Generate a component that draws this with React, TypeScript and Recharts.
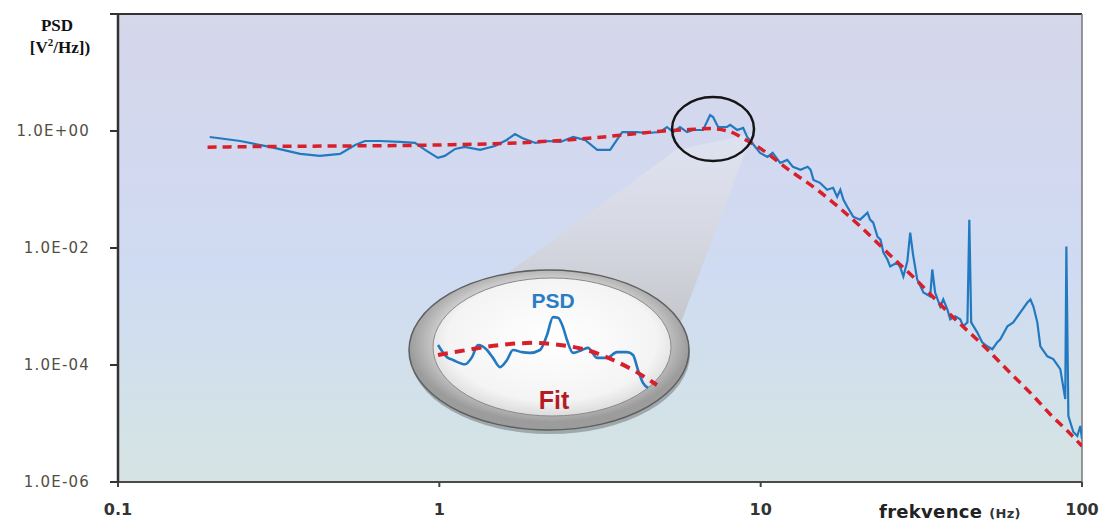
import React from 'react';
import { LineChart, Line, XAxis, YAxis, ReferenceLine } from 'recharts';

// ---- axis ticks ----
const xTicks = [0.1, 1, 10, 100];
const xTickLabels = ['0.1', '1', '10', '100'];
const yTicks = [1e-6, 1e-4, 1e-2, 1, 100];
const yTickLabels = ['1.0E-06', '1.0E-04', '1.0E-02', '1.0E+00', ''];

// ---- measured PSD (frequency in Hz, PSD in V^2/Hz) ----
const psdFreq = [
  0.193, 0.24, 0.297, 0.369, 0.425, 0.491, 0.547, 0.587, 0.654, 0.755,
  0.84, 0.903, 0.99, 1.04, 1.12, 1.2, 1.34, 1.49, 1.62, 1.72,
  1.81, 1.99, 2.18, 2.38, 2.61, 2.84, 3.1, 3.4, 3.57, 3.71,
  4.13, 4.43, 4.86, 5.11, 5.34, 5.61, 5.9, 6.16, 6.62, 6.96,
  7.11, 7.37, 7.86, 8.04, 8.45, 8.82, 9.08, 9.41, 9.96, 10.5,
  10.9, 11.5, 12.1, 12.6, 13.3, 14.0, 14.3, 14.6, 15.3, 16.1,
  16.8, 17.3, 17.7, 18.1, 18.6, 19.4, 20.4, 21.5, 21.9, 22.4,
  23.1, 23.6, 24.1, 24.8, 25.3, 26.6, 27.2, 27.8, 28.6, 29.2,
  29.8, 30.7, 32.1, 33.7, 34.2, 34.9, 36.2, 37.0, 38.1, 38.9,
  40.3, 41.8, 42.7, 44.0, 44.6, 45.2, 47.2, 48.9, 50.7, 52.6,
  54.5, 55.7, 58.6, 61.1, 64.3, 67.6, 69.1, 70.6, 72.6, 74.2,
  78.0, 81.4, 85.6, 88.7, 89.4, 90.7, 94.0, 96.7, 98.8, 100,
];
const psdValues = [
  0.79, 0.675, 0.534, 0.406, 0.375, 0.406, 0.577, 0.675, 0.675, 0.65,
  0.625, 0.475, 0.347, 0.375, 0.494, 0.534, 0.475, 0.555, 0.703, 0.889,
  0.76, 0.625, 0.675, 0.65, 0.79, 0.703, 0.475, 0.475, 0.703, 0.96,
  0.96, 0.925, 0.96, 1.17, 0.96, 1.17, 0.96, 1.04, 1.04, 1.87,
  1.73, 1.17, 1.17, 1.27, 1.04, 1.13, 0.79, 0.625, 0.422, 0.361,
  0.422, 0.285, 0.321, 0.244, 0.217, 0.244, 0.217, 0.146, 0.13, 0.0988,
  0.107, 0.075, 0.0988, 0.0668, 0.0507, 0.0343, 0.0305, 0.0401, 0.0305, 0.0271,
  0.0156, 0.0139, 0.00835, 0.00634, 0.00482, 0.00564, 0.00464, 0.00326, 0.00586, 0.0183,
  0.00772, 0.0029, 0.00174, 0.00149, 0.00429, 0.00174, 0.001, 0.00132, 0.000892, 0.000603,
  0.000678, 0.000603, 0.000458, 0.000536, 0.0305, 0.000536, 0.000362, 0.000245, 0.000209, 0.000186,
  0.000245, 0.000275, 0.000458, 0.000536, 0.000793, 0.00117, 0.00132, 0.001, 0.000536, 0.000209,
  0.000141, 0.000126, 8.48e-5, 2.62e-5, 0.0106, 1.34e-5, 7.16e-6, 6.12e-6, 9.07e-6, 5.45e-6,
];

// ---- fit curve ----
const fitFreq = [0.19, 0.3, 0.5, 1, 2, 3, 4, 5, 6, 7, 8, 9, 10, 12, 15, 20, 25, 30, 40, 50, 60, 70, 80, 90, 100];
const fitValues = [
  0.53, 0.545, 0.555, 0.577, 0.65, 0.76, 0.89, 1.0, 1.06, 1.1, 0.98, 0.7, 0.5,
  0.234, 0.0988, 0.026, 0.008, 0.0031, 6.3e-4, 2.0e-4, 7.2e-5, 3.1e-5, 1.4e-5, 7.5e-6, 4.1e-6,
];

// ---- zoomed inset (linear Hz / linear V^2/Hz) ----
const zoomPsdFreq = [5.36, 5.54, 5.66, 5.9, 6.04, 6.16, 6.34, 6.46, 6.6, 6.74, 6.86, 7.04, 7.2, 7.4, 7.54, 7.66, 7.76, 7.86, 7.94, 8.06, 8.24, 8.36, 8.54, 8.74, 8.94, 9.14, 9.26, 9.36, 9.46, 9.56];
const zoomPsdValues = [1.37, 1.2, 1.16, 1.1, 1.2, 1.37, 1.3, 1.19, 1.06, 1.16, 1.3, 1.27, 1.26, 1.3, 1.51, 1.76, 1.75, 1.62, 1.44, 1.26, 1.3, 1.33, 1.19, 1.19, 1.27, 1.27, 1.23, 1.02, 0.84, 0.77];
const zoomFitFreq = [5.36, 5.94, 6.6, 7.26, 7.8, 8.34, 8.86, 9.26, 9.74];
const zoomFitValues = [1.23, 1.3, 1.37, 1.4, 1.37, 1.3, 1.16, 1.02, 0.81];

const psdData = psdFreq.map((f, i) => ({ f, v: psdValues[i] }));
const fitData = fitFreq.map((f, i) => ({ f, v: fitValues[i] }));
const zoomPsdData = zoomPsdFreq.map((f, i) => ({ f, v: zoomPsdValues[i] }));
const zoomFitData = zoomFitFreq.map((f, i) => ({ f, v: zoomFitValues[i] }));

const BLUE = '#2379c0';
const RED = '#d8202a';

const labelFor = (vals: number[], labels: string[], v: number) => {
  let best = 0;
  vals.forEach((t, i) => {
    if (Math.abs(Math.log10(t) - Math.log10(v)) < Math.abs(Math.log10(vals[best]) - Math.log10(v))) best = i;
  });
  return labels[best];
};

const YTick = (props: any) => {
  const { x, y, payload } = props;
  return (
    <text x={x - 18} y={y} textAnchor="end" dominantBaseline="central" fill="#524e44"
      fontSize={15} fontFamily="DejaVu Sans" letterSpacing={1.2}>
      {labelFor(yTicks, yTickLabels, payload.value)}
    </text>
  );
};

const XTick = (props: any) => {
  const { x, y, payload } = props;
  return (
    <text x={x} y={y + 26} textAnchor="middle" fill="#333" fontSize={16} fontWeight={600} fontFamily="DejaVu Sans">
      {labelFor(xTicks, xTickLabels, payload.value)}
    </text>
  );
};

export default function App() {
  return (
    <div style={{ position: 'absolute', left: 0, top: 0, width: 1102, height: 523, background: '#fff', overflow: 'hidden' }}>
      {/* plot background */}
      <div style={{
        position: 'absolute', left: 118, top: 14, width: 964, height: 468,
        background: 'linear-gradient(to bottom, #d5d7ea 0%, #d2d9f0 35%, #cfdbf2 55%, #d2e1e9 82%, #d6e4e3 100%)',
      }} />
      {/* magnifier cone (under lines) */}
      <svg width={1102} height={523} style={{ position: 'absolute', left: 0, top: 0 }}>
        <defs>
          <linearGradient id="cone" x1="0" y1="0" x2="0" y2="1">
            <stop offset="0%" stopColor="#ececf0" stopOpacity={0.45} />
            <stop offset="100%" stopColor="#c4c4c9" stopOpacity={0.95} />
          </linearGradient>
        </defs>
        <polygon points="676,150 752,134 680,325 446,318" fill="url(#cone)" />
      </svg>

      <div style={{ position: 'absolute', left: 0, top: 0 }}>
        <LineChart width={1102} height={523} margin={{ top: 14, right: 20, bottom: 11, left: 0 }}>
          <XAxis type="number" dataKey="f" scale="log" domain={[0.1, 100]} ticks={xTicks} allowDataOverflow
            height={30} interval={0} axisLine={{ stroke: '#4a4a4a', strokeWidth: 2 }}
            tickLine={{ stroke: '#444', strokeWidth: 2 }} tickSize={5} tick={<XTick />} />
          <YAxis type="number" scale="log" domain={[1e-6, 100]} ticks={yTicks} allowDataOverflow
            width={118} interval={0} axisLine={{ stroke: '#333', strokeWidth: 2.5 }}
            tickLine={{ stroke: '#333', strokeWidth: 2 }} tickSize={8} tick={<YTick />} />
          <ReferenceLine y={100} stroke="#333" strokeWidth={2} />
          <ReferenceLine x={100} stroke="#777" strokeWidth={1.5} />
          <Line data={psdData} dataKey="v" type="linear" stroke={BLUE} strokeWidth={2.2}
            dot={false} isAnimationActive={false} />
          <Line data={fitData} dataKey="v" type="monotone" stroke={RED} strokeWidth={3.5}
            strokeDasharray="9 6" dot={false} isAnimationActive={false} />
        </LineChart>
      </div>

      {/* decorations above lines */}
      <svg width={1102} height={523} style={{ position: 'absolute', left: 0, top: 0 }}>
        <defs>
          <radialGradient id="ring" cx="50%" cy="45%" r="50%">
            <stop offset="70%" stopColor="#e6e6e6" />
            <stop offset="100%" stopColor="#9c9c9c" />
          </radialGradient>
          <radialGradient id="lens" cx="50%" cy="45%" r="55%">
            <stop offset="0%" stopColor="#ffffff" />
            <stop offset="80%" stopColor="#f4f4f4" />
            <stop offset="100%" stopColor="#dcdcdc" />
          </radialGradient>
        </defs>
        <ellipse cx={713} cy={129} rx={41} ry={32} fill="none" stroke="#151515" strokeWidth={2.5} />
        <ellipse cx={550} cy={354} rx={140} ry={80} fill="rgba(60,60,60,0.35)" />
        <ellipse cx={549} cy={350} rx={140} ry={80} fill="url(#ring)" stroke="#5e5e5e" strokeWidth={1.5} />
        <ellipse cx={552} cy={347} rx={119} ry={69} fill="url(#lens)" stroke="#8a8a8a" strokeWidth={1} />
        <text x={553} y={308} textAnchor="middle" fill="#2a7cc4" fontSize={21} fontWeight="bold" fontFamily="Liberation Sans">PSD</text>
        <text x={554} y={409} textAnchor="middle" fill="#b41c24" fontSize={25} fontWeight="bold" fontFamily="Liberation Sans">Fit</text>

        <text x={57} y={31} textAnchor="middle" fill="#111" fontSize={17} fontWeight="bold" fontFamily="Liberation Serif">PSD</text>
        <text x={60} y={53} textAnchor="middle" fill="#111" fontSize={17} fontWeight="bold" fontFamily="Liberation Serif">
          [V<tspan fontSize={11} dy={-7}>2</tspan><tspan dy={7}>/Hz])</tspan>
        </text>
        <text x={879} y={518} fill="#222" fontSize={18} fontWeight="bold" fontFamily="DejaVu Sans" letterSpacing={0.3}>
          frekvence<tspan fontSize={13} dx={7} fill="#333">(Hz)</tspan>
        </text>
      </svg>

      {/* zoomed inset */}
      <div style={{ position: 'absolute', left: 430, top: 300 }}>
        <LineChart width={240} height={100} margin={{ top: 0, right: 0, bottom: 0, left: 0 }}>
          <XAxis type="number" dataKey="f" domain={[5.2, 10]} hide />
          <YAxis type="number" domain={[0.6, 2.0]} hide />
          <Line data={zoomPsdData} dataKey="v" type="monotone" stroke={BLUE} strokeWidth={2.6}
            dot={false} isAnimationActive={false} />
          <Line data={zoomFitData} dataKey="v" type="monotone" stroke={RED} strokeWidth={4}
            strokeDasharray="10 7" dot={false} isAnimationActive={false} />
        </LineChart>
      </div>
    </div>
  );
}
